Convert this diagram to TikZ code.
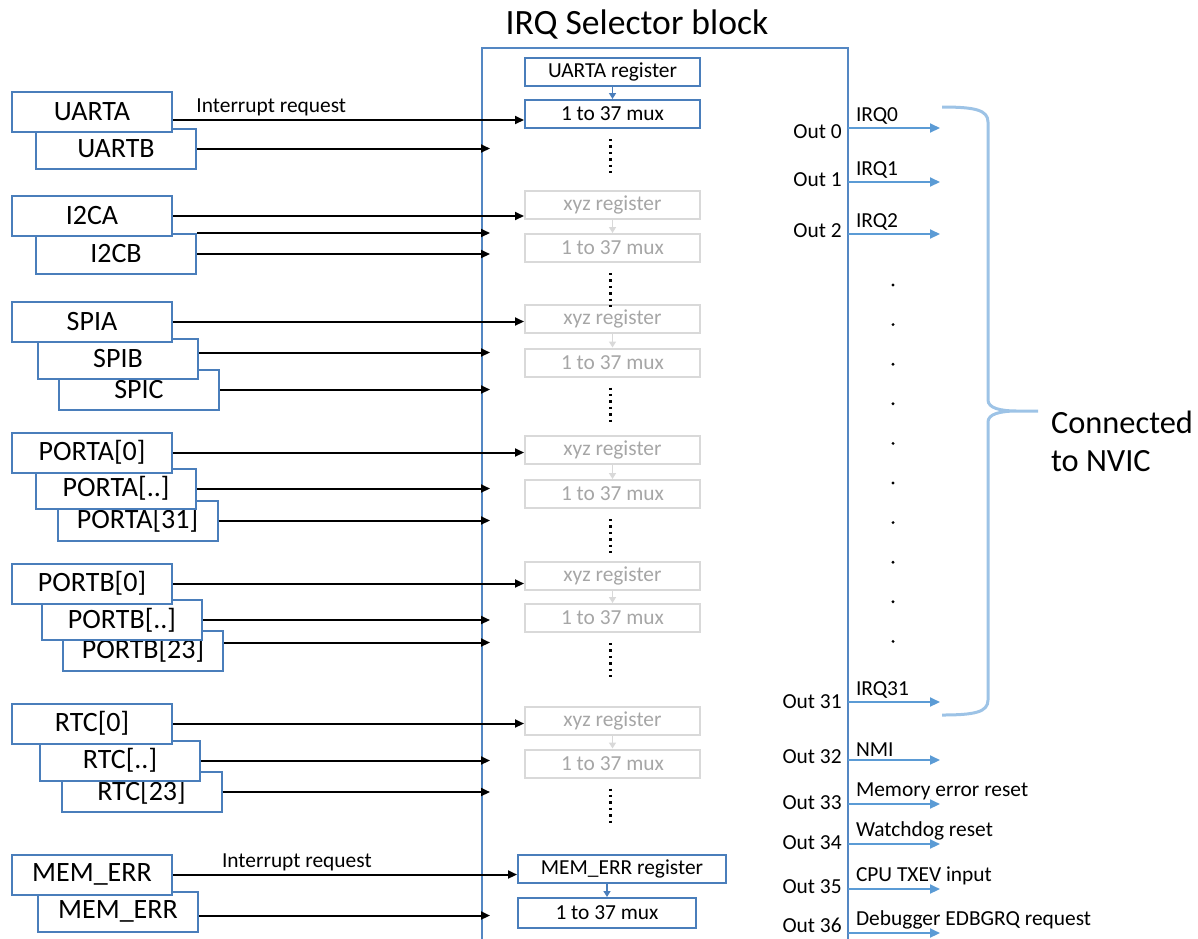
\documentclass[tikz,border=0pt]{standalone}
\usepackage{fontspec}
\setmainfont{Carlito}
\usetikzlibrary{shapes,positioning,calc,arrows.meta}
\usepackage{xcolor}
\definecolor{boxblue}{RGB}{74,126,187}
\definecolor{wallblue}{RGB}{84,135,195}
\definecolor{outblue}{RGB}{91,155,213}
\definecolor{braceblue}{RGB}{157,195,230}
\definecolor{ghostline}{RGB}{217,217,217}
\definecolor{ghosttext}{RGB}{166,166,166}

\tikzset{
	srcbox/.style={draw=boxblue, line width=1pt, fill=white, minimum width=80pt, minimum height=20pt, inner sep=0pt, font=\fontsize{14}{16}\selectfont},
	regbox/.style={draw=boxblue, line width=1pt, minimum width=87.5pt, minimum height=14pt, inner sep=0pt, font=\fontsize{10.7}{12}\selectfont},
	ghostbox/.style={regbox, draw=ghostline, text=ghosttext},
	lbl/.style={font=\fontsize{10.7}{12}\selectfont, inner sep=1.5pt, text=black},
	wire/.style={->, line width=1pt},
	wallwire/.style={wire, shorten >=-4.5pt},
	outwire/.style={-{Triangle[length=5pt,width=4.5pt]}, outblue, line width=1pt},
	vdots/.style={line width=1.8pt, dash pattern=on 1.2pt off 2pt},
}

\begin{document}
\begin{tikzpicture}[x=0.5pt, y=-0.5pt, >={Triangle[length=4.5pt,width=4pt]}]
	\useasboundingbox (0,0) rectangle (1198,938);
	\node[draw=wallblue, line width=1pt, minimum width=183pt, minimum height=451pt] (irqsel) at (665,499) {};
	\node[font=\fontsize{17.8}{20}\selectfont] (title) at (637,24) {IRQ Selector block};

	\node[srcbox] (uartb) at (116,148.5) {UARTB};
	\node[srcbox] (uarta) at (92,112) {UARTA};
	\node[srcbox] (i2cb) at (116,254) {I2CB};
	\node[srcbox] (i2ca) at (92,216) {I2CA};
	\node[srcbox] (spic) at (139,389.5) {SPIC};
	\node[srcbox] (spib) at (118,358.5) {SPIB};
	\node[srcbox] (spia) at (92,321.5) {SPIA};
	\node[srcbox] (portal) at (137.5,520.5) {PORTA[31]};
	\node[srcbox] (portam) at (116,488.5) {PORTA[..]};
	\node[srcbox] (portaz) at (92,452.5) {PORTA[0]};
	\node[srcbox] (portbl) at (143,650.5) {PORTB[23]};
	\node[srcbox] (portbm) at (122,620) {PORTB[..]};
	\node[srcbox] (portbz) at (92,583.5) {PORTB[0]};
	\node[srcbox] (rtcl) at (141.5,792) {RTC[23]};
	\node[srcbox] (rtcm) at (120,760.5) {RTC[..]};
	\node[srcbox] (rtcz) at (92,723.5) {RTC[0]};
	\node[srcbox] (memerrb) at (118,911.5) {MEM\_ERR};
	\node[srcbox] (memerr) at (92,874.5) {MEM\_ERR};

	\node[regbox] (uartreg) at (612.5,71.5) {UARTA register};
	\node[regbox] (mux0) at (612.5,114) {1 to 37 mux};
	\draw[-{Triangle[length=3pt,width=3.5pt]}, boxblue, line width=0.8pt] (uartreg) -- (mux0);
	\foreach \n/\yr/\ym in {1/205/248, 2/319/362.5, 3/450/494, 4/575.5/618, 5/721/763.5} {
		\node[ghostbox] (xyz\n) at (612.5,\yr) {xyz register};
		\node[ghostbox] (mux\n) at (612.5,\ym) {1 to 37 mux};
		\draw[-{Triangle[length=3pt,width=3.5pt]}, ghostline, line width=0.8pt] (xyz\n) -- (mux\n);
	}
	\foreach \n in {0,...,5}
		\draw[vdots] ([xshift=-1pt,yshift=-5pt]mux\n.south) -- ++(0,34);
	\node[regbox, minimum width=104pt] (memreg) at (622,868.5) {MEM\_ERR register};
	\node[regbox, minimum width=89pt, minimum height=15pt] (muxm) at (607,913) {1 to 37 mux};
	\draw[-{Triangle[length=3pt,width=3.5pt]}, boxblue, line width=0.8pt] (memreg.south -| muxm) -- (muxm.north);

	\draw[wire] ([yshift=-4pt]uarta.east) -- ([yshift=-4pt]uarta.east -| mux0.west) node[lbl, above, pos=0.28] {Interrupt request};
	\draw[wallwire] (uartb.east) -- (uartb.east -| irqsel.west);
	\draw[wire] (i2ca.east) -- (i2ca.east -| xyz1.west);
	\draw[wallwire] (i2cb.north east) -- (i2cb.north east -| irqsel.west);
	\draw[wallwire] (i2cb.east) -- (i2cb.east -| irqsel.west);
	\draw[wire] (spia.east) -- (spia.east -| xyz2.west);
	\draw[wallwire] ([yshift=3pt]spib.east) -- ([yshift=3pt]spib.east -| irqsel.west);
	\draw[wallwire] (spic.east) -- (spic.east -| irqsel.west);
	\draw[wire] (portaz.east) -- (portaz.east -| xyz3.west);
	\draw[wallwire] (portam.east) -- (portam.east -| irqsel.west);
	\draw[wallwire] (portal.east) -- (portal.east -| irqsel.west);
	\draw[wire] (portbz.east) -- (portbz.east -| xyz4.west);
	\draw[wallwire] (portbm.east) -- (portbm.east -| irqsel.west);
	\draw[wallwire] ([yshift=4pt]portbl.east) -- ([yshift=4pt]portbl.east -| irqsel.west);
	\draw[wire] (rtcz.east) -- (rtcz.east -| xyz5.west);
	\draw[wallwire] (rtcm.east) -- (rtcm.east -| irqsel.west);
	\draw[wallwire] (rtcl.east) -- (rtcl.east -| irqsel.west);
	\draw[wire] (memerr.east) -- (memerr.east -| memreg.west) node[lbl, above, pos=0.36] {Interrupt request};
	\draw[wallwire] ([yshift=-2pt]memerrb.east) -- ([yshift=-2pt]memerrb.east -| irqsel.west);

	\foreach \ya/\yl/\ol/\il [count=\i] in {128/132/Out 0/IRQ0, 182/180/Out 1/IRQ1, 234/231/Out 2/IRQ2, 702/702/Out 31/IRQ31, 760/757/Out 32/NMI, 804/803/Out 33/Memory error reset, 844/843/Out 34/Watchdog reset, 889/887/Out 35/CPU TXEV input, 933/925/Out 36/Debugger EDBGRQ request} {
		\coordinate (src\i) at (848,\ya);
		\coordinate (dst\i) at (940,\ya);
		\node[lbl, anchor=east] (out\i) at (845,\yl) {\ol};
		\draw[outwire] (src\i) -- node[lbl, pos=0, anchor=south west, xshift=2pt] (irq\i) {\il} (dst\i);
	}
	\foreach \k in {0,...,9}
		\fill (893,{285+39.6*\k}) circle [radius=1.6];

	\draw[braceblue, line width=1.5pt] (942,107) .. controls (975,107) and (988,110) .. (988,122) -- (988,400) .. controls (988,408) and (1000,411) .. (1017,411) -- (1038,411)
		(1017,411) .. controls (1000,411) and (988,414) .. (988,422) -- (988,700) .. controls (988,712) and (975,715) .. (942,715);
	\node[font=\fontsize{16.2}{19}\selectfont, align=left, anchor=west] (nvic) at (1044,441) {Connected\\to NVIC};
\end{tikzpicture}
\end{document}
